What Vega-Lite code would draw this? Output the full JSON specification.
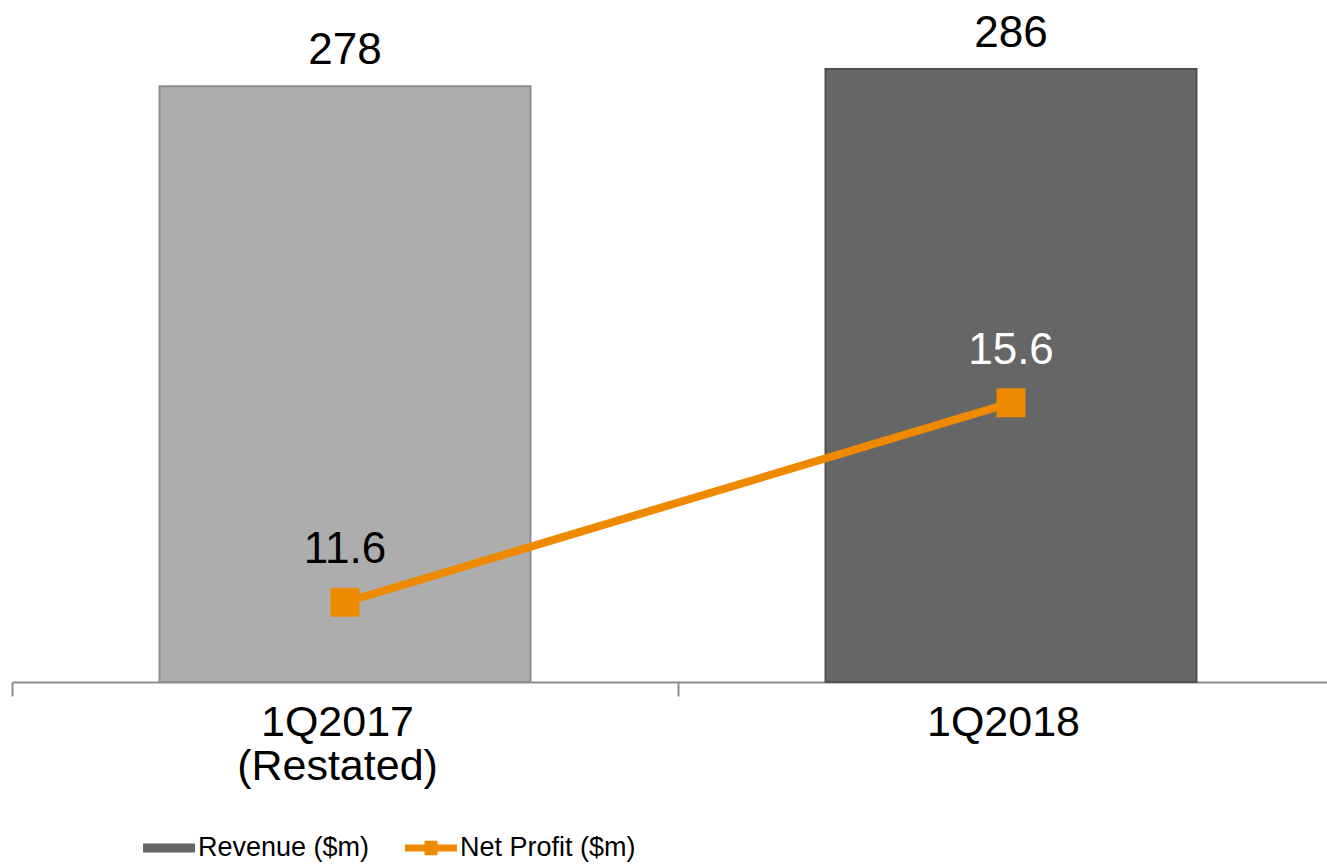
{
  "$schema": "https://vega.github.io/schema/vega-lite/v6.json",
  "autosize": "none",
  "width": 1315,
  "height": 643,
  "padding": {"left": 12, "top": 39, "right": 0, "bottom": 185},
  "config": {"view": {"stroke": null}, "font": "Liberation Sans"},
  "data": {"values": [
    {"quarter": "1Q2017 (Restated)", "revenue": 278, "profit": 11.6},
    {"quarter": "1Q2018", "revenue": 286, "profit": 15.6}
  ]},
  "encoding": {
    "x": {
      "field": "quarter", "type": "nominal", "sort": null,
      "scale": {"range": [0, 1332], "paddingInner": 0.443, "paddingOuter": 0.2215},
      "axis": {
        "title": null, "labelAngle": 0, "labelFontSize": 43, "labelColor": "#000000",
        "labelLineHeight": 44, "labelPadding": 5, "labelLimit": 0,
        "labelExpr": "datum.value == '1Q2017 (Restated)' ? ['1Q2017', '(Restated)'] : datum.value",
        "domainColor": "#8c8c8c", "domainWidth": 2, "tickColor": "#8c8c8c", "tickWidth": 2,
        "tickSize": 14, "tickOffset": -333, "labelOffset": 325, "grid": false
      }
    }
  },
  "layer": [
    {
      "encoding": {
        "y": {"field": "revenue", "type": "quantitative", "scale": {"domain": [0, 300], "nice": false}, "axis": null}
      },
      "layer": [
        {
          "mark": {"type": "bar", "strokeWidth": 2},
          "encoding": {
            "color": {"condition": {"test": "datum.quarter == '1Q2018'", "value": "#666666"}, "value": "#adadad"},
            "stroke": {"condition": {"test": "datum.quarter == '1Q2018'", "value": "#4f4f4f"}, "value": "#8e8e8e"}
          }
        },
        {
          "mark": {"type": "text", "fontSize": 44, "dy": -22, "baseline": "alphabetic", "color": "#000000"},
          "encoding": {"text": {"field": "revenue", "type": "quantitative"}}
        }
      ]
    },
    {
      "encoding": {
        "y": {"field": "profit", "type": "quantitative", "scale": {"domain": [10, 22.9], "nice": false, "zero": false}, "axis": null}
      },
      "layer": [
        {
          "mark": {"type": "line", "strokeWidth": 8},
          "encoding": {
            "color": {
              "datum": "Net Profit ($m)",
              "scale": {"domain": ["Revenue ($m)", "Net Profit ($m)"], "range": ["#666666", "#ee8a00"]},
              "legend": {
                "title": null, "orient": "none", "legendX": 131, "legendY": 783,
                "direction": "horizontal", "labelFontSize": 27, "labelColor": "#000000",
                "labelFont": "Liberation Sans", "symbolSize": 2704, "labelOffset": 3,
                "columnPadding": 35, "symbolStrokeWidth": 0, "labelLimit": 0,
                "encode": {
                  "symbols": {
                    "update": {
                      "shape": {"signal": "datum.value == 'Revenue ($m)' ? 'M-1,-0.17H1V0.17H-1Z' : 'M-1,-0.13H-0.25V-0.28H0.25V-0.13H1V0.13H0.25V0.28H-0.25V0.13H-1Z'"},
                      "fill": {"signal": "datum.value == 'Revenue ($m)' ? '#666666' : '#ee8a00'"},
                      "strokeWidth": {"value": 0},
                      "opacity": {"value": 1}
                    }
                  }
                }
              }
            }
          }
        },
        {
          "mark": {"type": "point", "shape": "square", "filled": true, "size": 841, "opacity": 1, "color": "#ee8a00"}
        },
        {
          "mark": {"type": "text", "fontSize": 44, "dy": -39, "baseline": "alphabetic"},
          "encoding": {
            "text": {"field": "profit", "type": "quantitative", "format": ".1f"},
            "color": {"condition": {"test": "datum.quarter == '1Q2018'", "value": "#ffffff"}, "value": "#000000"}
          }
        }
      ]
    }
  ],
  "resolve": {"scale": {"y": "independent"}}
}
